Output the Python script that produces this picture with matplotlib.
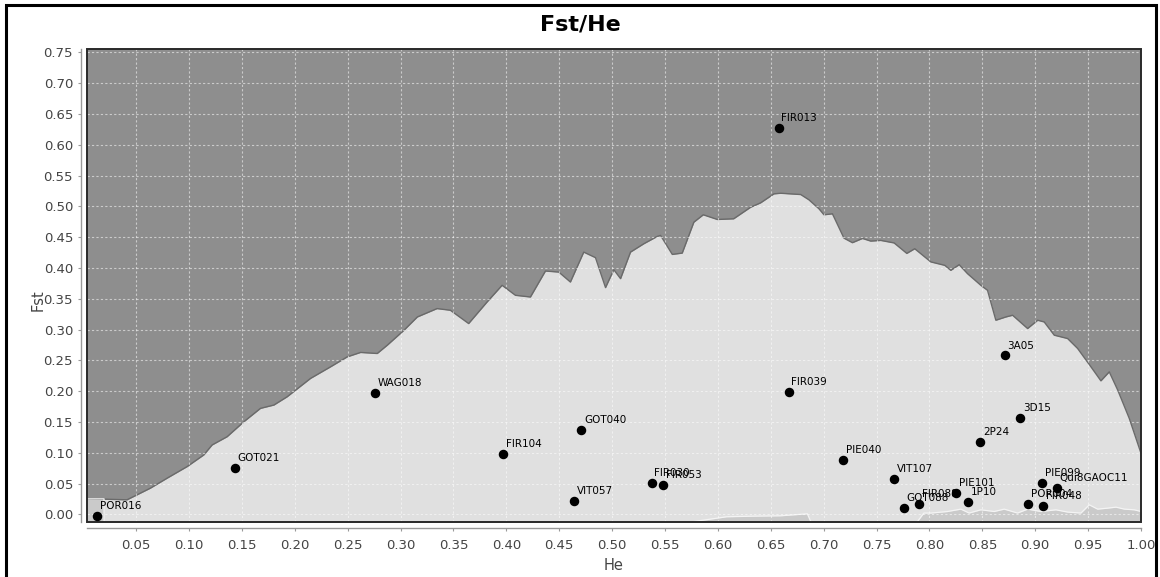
"""
Fst / He scatter with neutral envelope (upper and lower quantile curves).
"""

import matplotlib
matplotlib.use("Agg")
import matplotlib.pyplot as plt
import matplotlib.patches as mpatches
import numpy as np

# loci
loci=["POR016","GOT021","WAG018","FIR104","GOT040","VIT057","FIR030","FIR053",
      "FIR039","FIR013","PIE040","VIT107","GOT088","FIR088","PIE101","1P10",
      "2P24","3D15","3A05","POR004","FIR048","PIE099","Qui8GAOC11"]
he=[0.0131,0.1436,0.2755,0.3973,0.4710,0.4638,0.5373,0.5480,
    0.6669,0.6575,0.7183,0.7669,0.7757,0.7902,0.8249,0.8366,
    0.8479,0.8855,0.8713,0.8934,0.9076,0.9066,0.9205]
fst=[-0.0024,0.0758,0.1973,0.0980,0.1369,0.0224,0.0515,0.0473,
     0.1984,0.6278,0.0878,0.0570,0.0100,0.0170,0.0353,0.0202,
     0.1174,0.1563,0.2579,0.0165,0.0138,0.0505,0.0434]

# upper quantile curve
upper_he=[0.0036,0.0197,0.0414,0.0509,0.0635,0.0793,0.0982,0.1140,0.1219,0.1361,
          0.1519,0.1676,0.1803,0.1928,0.2149,0.2338,0.2496,0.2622,0.2780,0.2875,
          0.3033,0.3159,0.3345,0.3471,0.3644,0.3818,0.3960,0.4086,0.4228,0.4370,
          0.4496,0.4606,0.4732,0.4843,0.4938,0.5016,0.5080,0.5174,0.5300,0.5427,
          0.5458,0.5569,0.5663,0.5773,0.5862,0.5995,0.6149,0.6310,0.6404,0.6530,
          0.6594,0.6783,0.6861,0.6956,0.7003,0.7083,0.7192,0.7272,0.7367,0.7445,
          0.7540,0.7666,0.7786,0.7861,0.8013,0.8145,0.8202,0.8281,0.8360,0.8486,
          0.8549,0.8628,0.8722,0.8786,0.8928,0.9023,0.9085,0.9180,0.9306,0.9401,
          0.9527,0.9621,0.9700,0.9780,0.9889,1.0000]
upper_fst=[0.0251,0.0246,0.0235,0.0316,0.0424,0.0586,0.0774,0.0964,0.1126,0.1260,
           0.1503,0.1720,0.1774,0.1908,0.2206,0.2394,0.2556,0.2628,0.2611,0.2746,
           0.2989,0.3204,0.3340,0.3313,0.3097,0.3447,0.3718,0.3556,0.3528,0.3950,
           0.3933,0.3771,0.4257,0.4167,0.3681,0.3972,0.3826,0.4257,0.4393,0.4512,
           0.4528,0.4220,0.4241,0.4743,0.4863,0.4787,0.4798,0.4986,0.5057,0.5203,
           0.5213,0.5192,0.5106,0.4960,0.4863,0.4879,0.4484,0.4410,0.4479,0.4436,
           0.4447,0.4406,0.4236,0.4312,0.4098,0.4042,0.3961,0.4053,0.3907,0.3718,
           0.3637,0.3151,0.3204,0.3232,0.3016,0.3151,0.3123,0.2908,0.2854,0.2692,
           0.2394,0.2167,0.2313,0.2017,0.1558,0.0991]

# lower quantile curve
lower_he=[0.0036,0.0197,0.0198,0.5760,0.5775,0.6083,0.6341,0.6594,0.6846,0.6878,
          0.6890,0.7860,0.7887,0.7947,0.8013,0.8171,0.8297,0.8375,0.8486,0.8612,
          0.8707,0.8833,0.8928,0.9054,0.9195,0.9306,0.9432,0.9511,0.9590,0.9685,
          0.9764,0.9842,0.9937,1.0000]
lower_fst=[0.0251,0.0251,-0.0200,-0.0200,-0.0117,-0.0040,-0.0030,-0.0024,0.0008,-0.0117,
           -0.0200,-0.0200,-0.0117,0.0020,0.0020,0.0045,0.0084,0.0020,0.0073,0.0045,
           0.0084,0.0020,0.0084,0.0045,0.0073,0.0036,0.0020,0.0154,0.0084,0.0100,
           0.0116,0.0084,0.0073,0.0045]

xticks=[round(0.05*i,2) for i in range(1,21)]
yticks=[round(0.05*i,2) for i in range(0,16)]

XMIN,XMAX=0.0036,1.0
YMIN,YMAX=-0.0125,0.7555

fig=plt.figure(figsize=(11.6,5.77),dpi=100)
fig.patch.set_facecolor("white")
ax=fig.add_axes([87/1160,1-522/577,(1141-87)/1160,(522-49)/577])
ax.set_facecolor("#8e8e8e")

yb=-0.05
ax.fill_between(upper_he,yb,upper_fst,color="#e0e0e0",lw=0,zorder=1)
ax.fill_between(lower_he,yb,lower_fst,color="#cacaca",lw=0,zorder=1.1)
ax.plot(upper_he,upper_fst,color="#6a6a6a",lw=1.0,zorder=1.2)
ax.plot(lower_he,lower_fst,color="#f4f4f4",lw=0.9,zorder=1.2)

ax.set_xlim(XMIN,XMAX);ax.set_ylim(YMIN,YMAX)
ax.set_xticks(xticks);ax.set_yticks(yticks)
ax.set_xticklabels([f"{v:.2f}" for v in xticks])
ax.set_yticklabels([f"{v:.2f}" for v in yticks])
ax.set_axisbelow(False)
ax.grid(True,color="white",alpha=0.55,lw=0.8,linestyle=(0,(2,2)))

# axis lines sit a few pixels off the plot area
for s in ["top","right"]:
    ax.spines[s].set_visible(False)
for s in ["left","bottom"]:
    ax.spines[s].set_position(("outward",4))
    ax.spines[s].set_color("#999999")
    ax.spines[s].set_linewidth(1.0)
ax.tick_params(axis="both",colors="#999999",length=2,width=0.8,labelsize=9.5,
               labelcolor="#444444")
ax.tick_params(axis="x",pad=6)
ax.tick_params(axis="y",pad=4)

# plot-area frame
ax.add_patch(mpatches.Rectangle((0,0),1,1,transform=ax.transAxes,fill=False,
                                edgecolor="#2a2a2a",lw=1.4,zorder=4,clip_on=False))

ax.scatter(he,fst,s=34,color="black",zorder=5,clip_on=False)
for name,x,y in zip(loci,he,fst):
    ax.annotate(name,(x,y),xytext=(2,3.5),textcoords="offset points",
                ha="left",va="bottom",fontsize=7.5,color="black",zorder=6)

ax.set_xlabel("He",fontsize=10.5,color="#444444")
ax.set_ylabel("Fst",fontsize=10.5,color="#444444")
ax.xaxis.set_label_coords((614-87)/1054,(522-558)/473)
ax.yaxis.set_label_coords((46-87)/1054,(522-300)/473)

fig.text(580/1160,1-24/577,"Fst/He",ha="center",va="center",fontsize=16,
         fontweight="bold",color="black")

# outer chart border
fig.patches.append(mpatches.Rectangle((5.5/1160,-0.02),(1150.5/1160),1-4.5/577+0.02,
                                      transform=fig.transFigure,fill=False,
                                      edgecolor="black",lw=2.2,zorder=10))

fig.savefig("out.png",dpi=100)
